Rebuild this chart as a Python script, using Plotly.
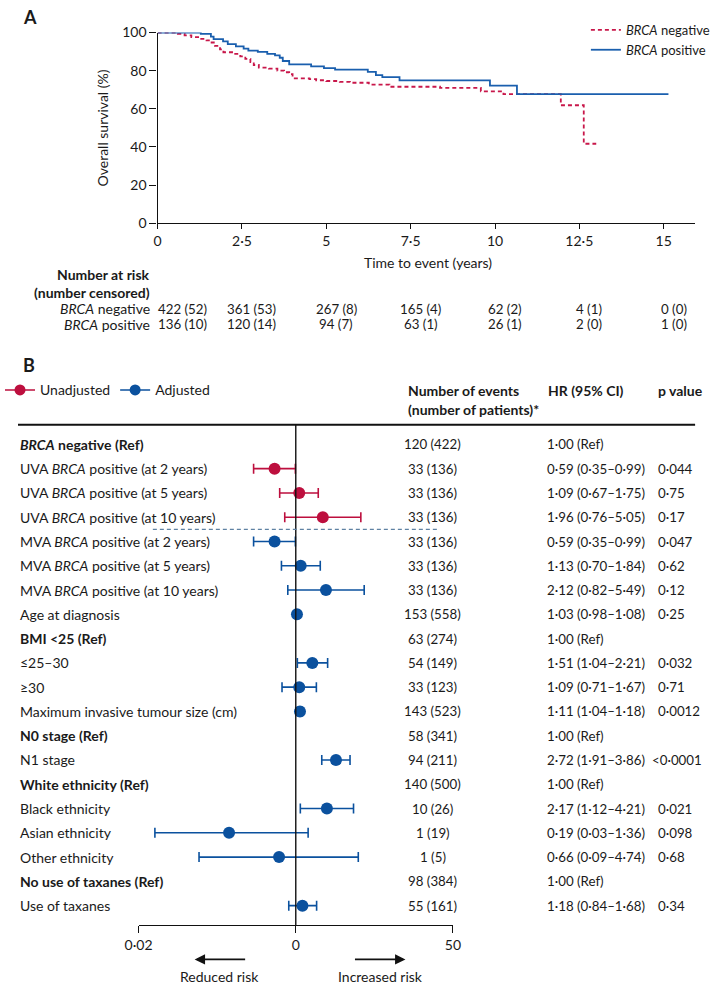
import math
import plotly.graph_objects as go

W, H = 715, 991
FONT = "Lato"
KM_RED = "#c8174a"
KM_BLUE = "#1a5fae"
RED = "#bd0f3e"
BLUE = "#0b519e"
DASH_GREY = "#5f82a3"

# ---------------- Panel A data (Kaplan-Meier) ----------------
neg_t = [0, 0.53, 0.6, 0.8, 1.0, 1.2, 1.45, 1.6, 1.7, 1.85, 1.95, 2.3, 2.45, 2.6, 2.75, 2.85,
         3.0, 3.3, 3.55, 3.75, 3.9, 4.0, 4.5, 4.7, 5.0, 5.4, 5.7, 6.26, 6.87, 8.37, 9.58,
         10.25, 11.95, 12.63, 13.0]
neg_s = [100, 100, 99.3, 98.5, 97.6, 96.7, 95.9, 94.8, 93.0, 91.2, 89.7, 88.8, 87.5, 86.2, 84.5, 83.0,
         81.6, 81.1, 80.0, 79.2, 78.2, 76.0, 75.6, 75.0, 74.6, 74.2, 73.7, 72.7, 71.6, 71.0, 69.2,
         67.7, 61.9, 41.7, 41.7]

pos_t = [0, 1.28, 1.58, 1.66, 1.94, 2.08, 2.32, 2.55, 2.69, 2.97, 3.25, 3.48, 3.62, 3.71, 3.9,
         4.55, 4.93, 5.26, 6.23, 6.47, 6.66, 7.17, 9.85, 10.65, 15.14]
pos_s = [100, 99.3, 97.9, 96.6, 95.4, 94.0, 92.8, 91.6, 90.5, 89.9, 88.8, 88.0, 86.8, 85.1, 83.3,
         82.3, 81.4, 80.6, 79.4, 77.7, 76.6, 74.9, 72.2, 67.7, 67.7]

km_xticks = [0, 2.5, 5, 7.5, 10, 12.5, 15]
km_xticktext = ["0", "2·5", "5", "7·5", "10", "12·5", "15"]
km_yticks = [0, 20, 40, 60, 80, 100]

risk_times = [0, 2.5, 5, 7.5, 10, 12.5, 15]
risk_neg = ["422 (52)", "361 (53)", "267 (8)", "165 (4)", "62 (2)", "4 (1)", "0 (0)"]
risk_pos = ["136 (10)", "120 (14)", "94 (7)", "63 (1)", "26 (1)", "2 (0)", "1 (0)"]

# ---------------- Panel B data (forest plot) ----------------
row_labels = [
    "<b><i>BRCA</i> negative (Ref)</b>",
    "UVA <i>BRCA</i> positive (at 2 years)",
    "UVA <i>BRCA</i> positive (at 5 years)",
    "UVA <i>BRCA</i> positive (at 10 years)",
    "MVA <i>BRCA</i> positive (at 2 years)",
    "MVA <i>BRCA</i> positive (at 5 years)",
    "MVA <i>BRCA</i> positive (at 10 years)",
    "Age at diagnosis",
    "<b>BMI &lt;25 (Ref)</b>",
    "≤25–30",
    "≥30",
    "Maximum invasive tumour size (cm)",
    "<b>N0 stage (Ref)</b>",
    "N1 stage",
    "<b>White ethnicity (Ref)</b>",
    "Black ethnicity",
    "Asian ethnicity",
    "Other ethnicity",
    "<b>No use of taxanes (Ref)</b>",
    "Use of taxanes",
]
events = ["120 (422)", "33 (136)", "33 (136)", "33 (136)", "33 (136)", "33 (136)", "33 (136)",
          "153 (558)", "63 (274)", "54 (149)", "33 (123)", "143 (523)", "58 (341)", "94 (211)",
          "140 (500)", "10 (26)", "1 (19)", "1 (5)", "98 (384)", "55 (161)"]
hr = [None, 0.59, 1.09, 1.96, 0.59, 1.13, 2.12, 1.03, None, 1.51, 1.09, 1.11, None, 2.72,
      None, 2.17, 0.19, 0.66, None, 1.18]
ci_lo = [None, 0.35, 0.67, 0.76, 0.35, 0.70, 0.82, 0.98, None, 1.04, 0.71, 1.04, None, 1.91,
         None, 1.12, 0.03, 0.09, None, 0.84]
ci_hi = [None, 0.99, 1.75, 5.05, 0.99, 1.84, 5.49, 1.08, None, 2.21, 1.67, 1.18, None, 3.86,
         None, 4.21, 1.36, 4.74, None, 1.68]
model = ["ref", "unadj", "unadj", "unadj", "adj", "adj", "adj", "adj", "ref", "adj", "adj", "adj",
         "ref", "adj", "ref", "adj", "adj", "adj", "ref", "adj"]
hr_text = ["1·00 (Ref)", "0·59 (0·35–0·99)", "1·09 (0·67–1·75)", "1·96 (0·76–5·05)",
           "0·59 (0·35–0·99)", "1·13 (0·70–1·84)", "2·12 (0·82–5·49)", "1·03 (0·98–1·08)",
           "1·00 (Ref)", "1·51 (1·04–2·21)", "1·09 (0·71–1·67)", "1·11 (1·04–1·18)",
           "1·00 (Ref)", "2·72 (1·91–3·86)", "1·00 (Ref)", "2·17 (1·12–4·21)",
           "0·19 (0·03–1·36)", "0·66 (0·09–4·74)", "1·00 (Ref)", "1·18 (0·84–1·68)"]
p_text = ["", "0·044", "0·75", "0·17", "0·047", "0·62", "0·12", "0·25", "", "0·032", "0·71",
          "0·0012", "", "<0·0001", "", "0·021", "0·098", "0·68", "", "0·34"]
forest_ticks = [0.02, 1, 50]
forest_ticktext = ["0·02", "0", "50"]


def px(x):
    return x / W


def py(y):
    return 1 - y / H


fig = go.Figure()

# KM curves
fig.add_trace(go.Scatter(x=neg_t, y=neg_s, mode="lines", name="<i>BRCA</i> negative",
                         line=dict(shape="hv", color=KM_RED, dash="4px,3px", width=1.8),
                         xaxis="x", yaxis="y", legend="legend", hoverinfo="skip"))
fig.add_trace(go.Scatter(x=pos_t, y=pos_s, mode="lines", name="<i>BRCA</i> positive",
                         line=dict(shape="hv", color=KM_BLUE, width=1.8),
                         xaxis="x", yaxis="y", legend="legend", hoverinfo="skip"))

# Forest points
for key, col in (("unadj", RED), ("adj", BLUE)):
    idx = [i for i, m in enumerate(model) if m == key]
    xs = [hr[i] for i in idx]
    fig.add_trace(go.Scatter(
        x=xs, y=idx, mode="markers",
        marker=dict(size=12, color=col),
        error_x=dict(type="data", symmetric=False,
                     array=[ci_hi[i] - hr[i] for i in idx],
                     arrayminus=[hr[i] - ci_lo[i] for i in idx],
                     color=col, thickness=1.6, width=5),
        xaxis="x2", yaxis="y2", showlegend=False, hoverinfo="skip"))

# Legend entries for panel B
fig.add_trace(go.Scatter(x=[None], y=[None], mode="lines+markers", name="Unadjusted",
                         line=dict(color=RED, width=1.6), marker=dict(size=11, color=RED),
                         xaxis="x2", yaxis="y2", legend="legend2"))
fig.add_trace(go.Scatter(x=[None], y=[None], mode="lines+markers", name="Adjusted",
                         line=dict(color=BLUE, width=1.6), marker=dict(size=11, color=BLUE),
                         xaxis="x2", yaxis="y2", legend="legend2"))

n_rows = len(row_labels)
row_top = 443
row_step = 24.7
top_line_y = 423
axis_y = 932
y2_top = (top_line_y - row_top) / row_step
y2_bot = (axis_y - row_top) / row_step

FS = 14
ann = []
txt = dict(family=FONT, size=FS, color="#1a1a1a")
num = dict(family=FONT, size=13.3, color="#1a1a1a")

# Panel labels
ann.append(dict(text="<b>A</b>", x=px(3), y=py(8), xref="paper", yref="paper",
                xanchor="left", yanchor="middle", showarrow=False,
                font=dict(family=FONT, size=18, color="#1a1a1a")))
ann.append(dict(text="<b>B</b>", x=px(3), y=py(362), xref="paper", yref="paper",
                xanchor="left", yanchor="middle", showarrow=False,
                font=dict(family=FONT, size=18, color="#1a1a1a")))

# Panel A titles
ann.append(dict(text="Overall survival (%)", x=px(89), y=py(121), xref="paper", yref="paper",
                textangle=-90, showarrow=False, xanchor="center", yanchor="middle", font=txt))
ann.append(dict(text="Time to event (years)", x=px(432), y=py(258), xref="paper", yref="paper",
                showarrow=False, xanchor="center", yanchor="middle", font=txt))

# Number at risk
ann.append(dict(text="<b>Number at risk</b>", x=px(141), y=py(270), xref="paper", yref="paper",
                showarrow=False, xanchor="right", yanchor="middle", font=txt))
ann.append(dict(text="<b>(number censored)</b>", x=px(141), y=py(288), xref="paper", yref="paper",
                showarrow=False, xanchor="right", yanchor="middle", font=txt))
for lab, vals, yy in (("<i>BRCA</i> negative", risk_neg, 305), ("<i>BRCA</i> positive", risk_pos, 321)):
    ann.append(dict(text=lab, x=px(141), y=py(yy), xref="paper", yref="paper",
                    showarrow=False, xanchor="right", yanchor="middle", font=txt))
    for k, (t, v) in enumerate(zip(risk_times, vals)):
        ann.append(dict(text=v, x=t, y=py(yy), xref="x", yref="paper", showarrow=False,
                        xanchor="center", yanchor="middle", xshift=25 if k == 0 else 10, font=num))

# Panel B headers
hdr = dict(family=FONT, size=FS, color="#1a1a1a")
ann.append(dict(text="<b>Number of events</b>", x=px(409), y=py(388), xref="paper", yref="paper",
                showarrow=False, xanchor="left", yanchor="middle", font=hdr))
ann.append(dict(text="<b>(number of patients)*</b>", x=px(409), y=py(407), xref="paper", yref="paper",
                showarrow=False, xanchor="left", yanchor="middle", font=hdr))
ann.append(dict(text="<b>HR (95% CI)</b>", x=px(556), y=py(388), xref="paper", yref="paper",
                showarrow=False, xanchor="left", yanchor="middle", font=hdr))
ann.append(dict(text="<b>p value</b>", x=px(672), y=py(388), xref="paper", yref="paper",
                showarrow=False, xanchor="left", yanchor="middle", font=hdr))

# Rows
for i in range(n_rows):
    ann.append(dict(text=row_labels[i], x=0, y=i, xref="paper", yref="y2", showarrow=False,
                    xanchor="left", yanchor="middle", font=txt))
    ann.append(dict(text=events[i], x=px(437), y=i, xref="paper", yref="y2", showarrow=False,
                    xanchor="center", yanchor="middle", font=num))
    ann.append(dict(text=hr_text[i], x=px(555), y=i, xref="paper", yref="y2", showarrow=False,
                    xanchor="left", yanchor="middle", font=num))
    if p_text[i]:
        ann.append(dict(text=p_text[i].replace("<", "&lt;"),
                        x=px(666 if p_text[i].startswith("<") else 672), y=i,
                        xref="paper", yref="y2", showarrow=False,
                        xanchor="left", yanchor="middle", font=num))

# Arrows
ann.append(dict(text="", x=px(186), y=py(967), xref="paper", yref="paper", ax=52, ay=0,
                showarrow=True, arrowhead=2, arrowsize=1.3, arrowwidth=1.6, arrowcolor="#111"))
ann.append(dict(text="", x=px(408), y=py(967), xref="paper", yref="paper", ax=-52, ay=0,
                showarrow=True, arrowhead=2, arrowsize=1.3, arrowwidth=1.6, arrowcolor="#111"))
ann.append(dict(text="Reduced risk", x=px(212), y=py(984), xref="paper", yref="paper",
                showarrow=False, xanchor="center", yanchor="middle", font=txt))
ann.append(dict(text="Increased risk", x=px(382), y=py(984), xref="paper", yref="paper",
                showarrow=False, xanchor="center", yanchor="middle", font=txt))

shapes = [
    dict(type="line", xref="paper", yref="paper", x0=0, x1=px(713), y0=py(top_line_y), y1=py(top_line_y),
         line=dict(color="#111", width=1.8)),
    dict(type="line", xref="x2", yref="y2 domain", x0=1, x1=1, y0=0, y1=1,
         line=dict(color="#111", width=1.4)),
    dict(type="line", xref="paper", yref="y2", x0=px(142), x1=px(443), y0=3.5, y1=3.5,
         line=dict(color=DASH_GREY, width=1.4, dash="4px,3px")),
]

axis_common = dict(showline=True, linecolor="#111", linewidth=1.4, ticks="outside",
                   tickcolor="#111", tickwidth=1.4, showgrid=False, zeroline=False,
                   tickfont=dict(family=FONT, size=14, color="#1a1a1a"))

fig.update_layout(
    width=W, height=H, margin=dict(l=0, r=0, t=0, b=0),
    paper_bgcolor="white", plot_bgcolor="white",
    font=dict(family=FONT, size=FS, color="#1a1a1a"),
    xaxis=dict(domain=[px(147), px(713)], range=[0, 15.93], anchor="y",
               tickvals=km_xticks, ticktext=km_xticktext, ticklen=5, **axis_common),
    yaxis=dict(domain=[py(218), py(24)], range=[0, 100], anchor="x",
               tickvals=km_yticks, ticklen=7, **axis_common),
    xaxis2=dict(domain=[px(127), px(458)], type="log",
                range=[math.log10(0.02), math.log10(50)], anchor="y2",
                tickvals=forest_ticks, ticktext=forest_ticktext, ticklen=7, **axis_common),
    yaxis2=dict(domain=[py(axis_y), py(top_line_y)], range=[y2_bot, y2_top], anchor="x2",
                visible=False),
    legend=dict(x=px(598), y=py(6), xanchor="left", yanchor="top", bgcolor="rgba(0,0,0,0)",
                font=dict(family=FONT, size=13, color="#1a1a1a"), tracegroupgap=0,
                itemwidth=30),
    legend2=dict(x=px(-19), y=py(388), xanchor="left", yanchor="middle", orientation="h",
                 bgcolor="rgba(0,0,0,0)", font=dict(family=FONT, size=FS, color="#1a1a1a"),
                 itemwidth=30),
    annotations=ann,
    shapes=shapes,
    showlegend=True,
)

fig.write_html("out.html", config={"displayModeBar": False},
               post_script="document.body.style.margin='0';document.body.style.overflow='hidden';")
